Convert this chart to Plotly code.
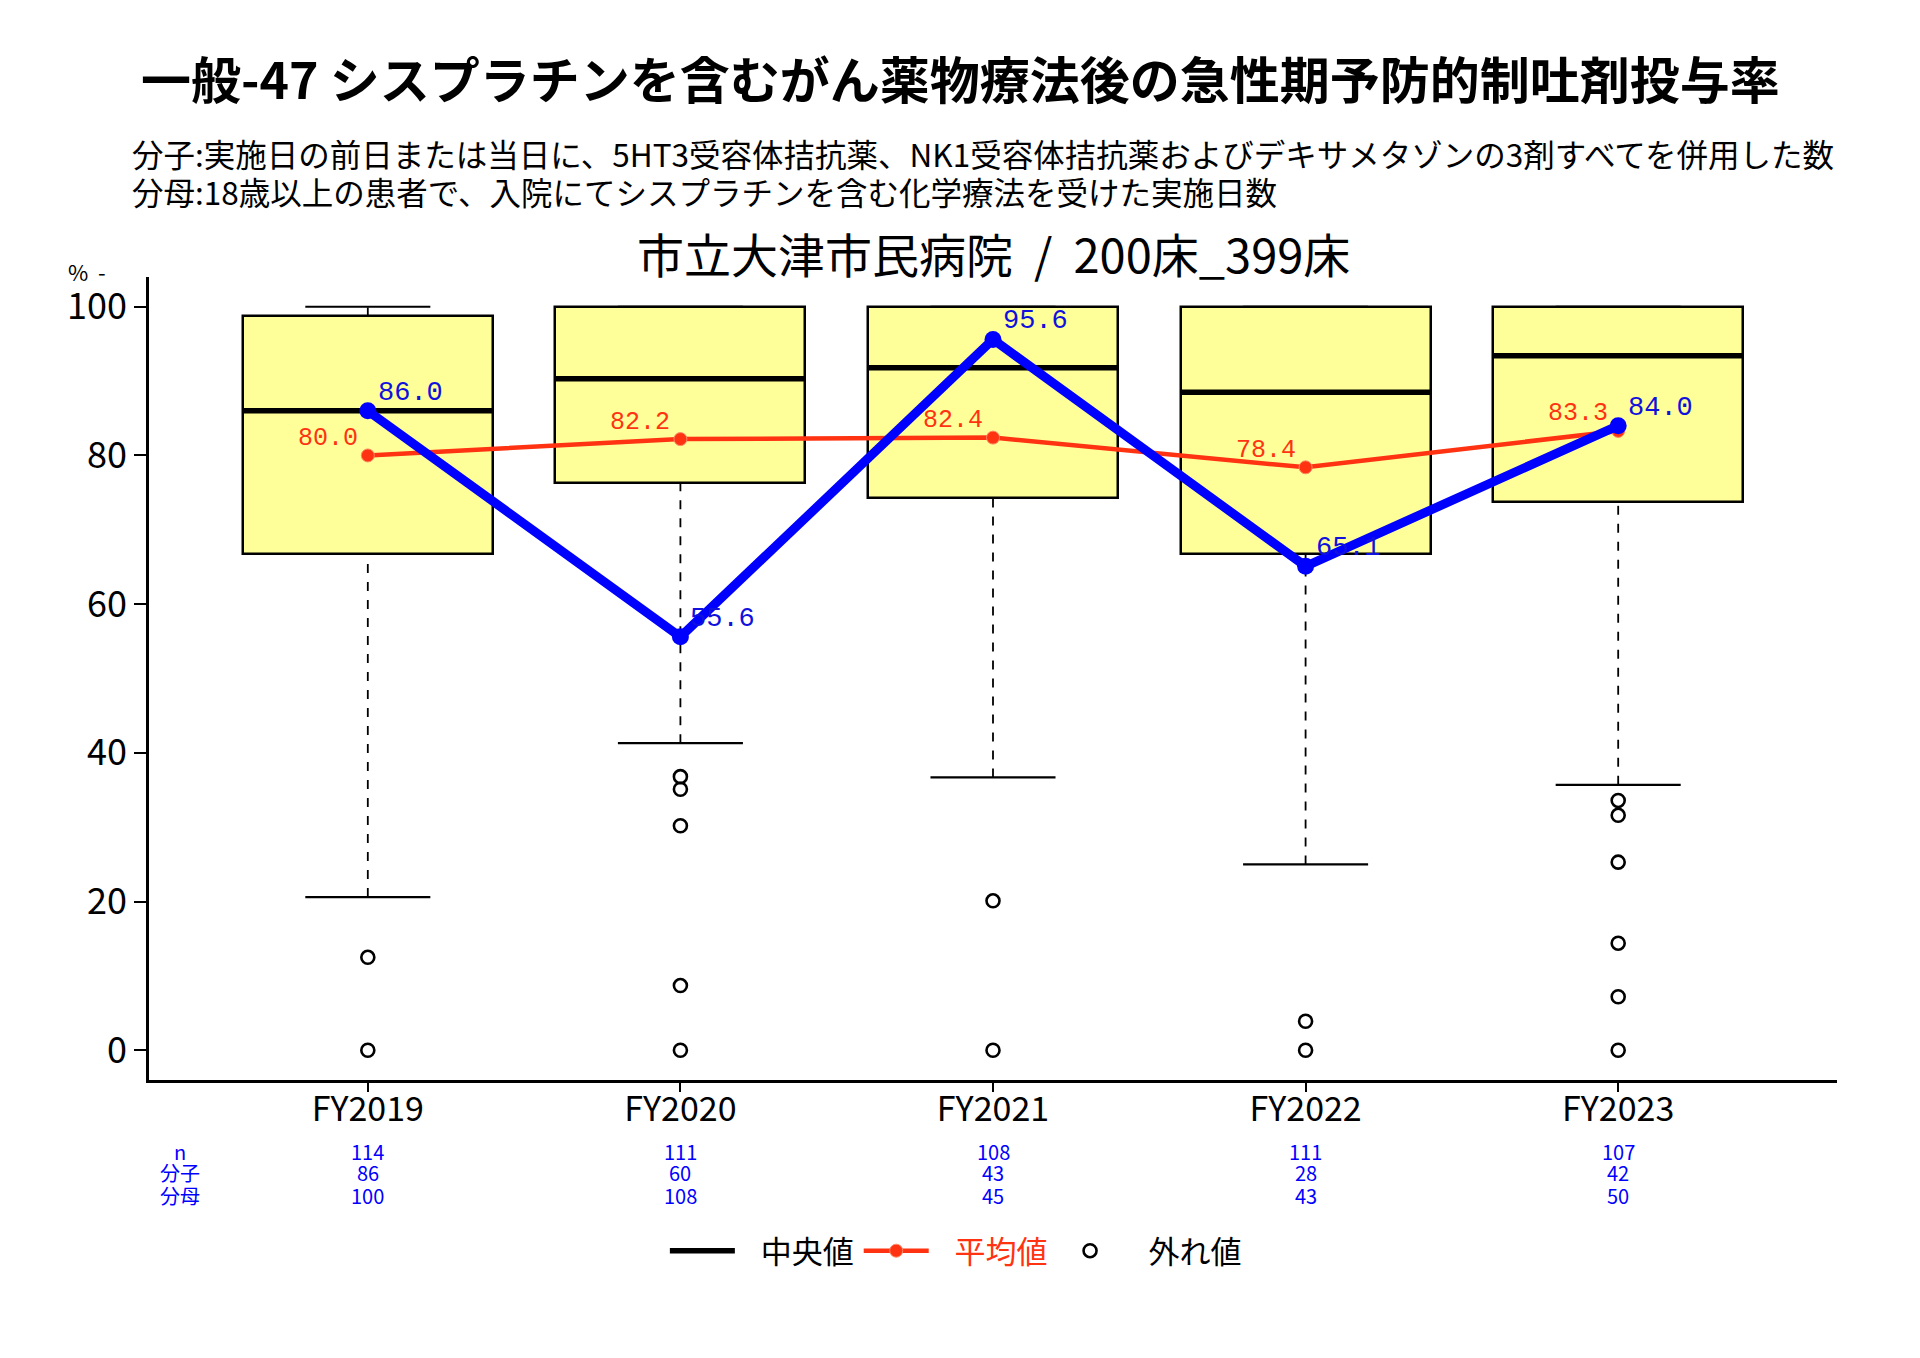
import plotly.graph_objects as go

# ---------------- data ----------------
categories = ["FY2019", "FY2020", "FY2021", "FY2022", "FY2023"]
box_q1 = [66.8, 76.3, 74.3, 66.8, 73.8]
box_median = [86.0, 90.3, 91.8, 88.5, 93.4]
box_q3 = [98.7, 100.0, 100.0, 100.0, 100.0]
whisker_low = [20.6, 41.3, 36.7, 25.0, 35.7]
whisker_high = [100.0, 100.0, 100.0, 100.0, 100.0]
outliers = [
    [12.5, 0.0],
    [36.8, 35.1, 30.2, 8.7, 0.0],
    [20.1, 0.0],
    [3.9, 0.0],
    [33.6, 31.6, 25.3, 14.4, 7.2, 0.0],
]
mean_values = [80.0, 82.2, 82.4, 78.4, 83.3]
hospital_values = [86.0, 55.6, 95.6, 65.1, 84.0]
n_values = [114, 111, 108, 111, 107]
numerators = [86, 60, 43, 28, 42]
denominators = [100, 108, 45, 43, 50]
yticks = [0, 20, 40, 60, 80, 100]

title_text = "一般-47 シスプラチンを含むがん薬物療法後の急性期予防的制吐剤投与率"
sub1 = "分子:実施日の前日または当日に、5HT3受容体拮抗薬、NK1受容体拮抗薬およびデキサメタゾンの3剤すべてを併用した数"
sub2 = "分母:18歳以上の患者で、入院にてシスプラチンを含む化学療法を受けた実施日数"
chart_title = "市立大津市民病院\u00a0\u00a0/\u00a0\u00a0200床_399床"

# ---------------- style ----------------
CJK = "Noto Sans CJK JP"
NARROW = "Liberation Sans Narrow, Arial Narrow, Noto Sans CJK JP"
MONO = "Liberation Mono, DejaVu Sans Mono"
BLUE = "#0000FF"
BLUE_TEXT = "#1111DD"
RED = "#FF3311"
YELLOW = "#FFFF99"
BOX_HALF = 0.4
STAPLE_HALF = 0.2
GAP = "\u00a0\u00a0\u00a0"

xs = list(range(len(categories)))

fig = go.Figure()

# boxes (q1 -> q3)
fig.add_trace(go.Bar(
    x=xs, y=[q3 - q1 for q1, q3 in zip(box_q1, box_q3)], base=box_q1,
    width=2 * BOX_HALF, marker=dict(color=YELLOW, line=dict(color="black", width=2.5)),
    showlegend=False, hoverinfo="skip"))

# whiskers (dashed)
wx, wy = [], []
for i in xs:
    wx += [i, i, None, i, i, None]
    wy += [box_q3[i], whisker_high[i], None, whisker_low[i], box_q1[i], None]
fig.add_trace(go.Scatter(x=wx, y=wy, mode="lines",
                         line=dict(color="black", width=1.8, dash="dash"),
                         showlegend=False, hoverinfo="skip"))

# staples
sx, sy = [], []
for i in xs:
    sx += [i - STAPLE_HALF, i + STAPLE_HALF, None, i - STAPLE_HALF, i + STAPLE_HALF, None]
    sy += [whisker_low[i], whisker_low[i], None, whisker_high[i], whisker_high[i], None]
fig.add_trace(go.Scatter(x=sx, y=sy, mode="lines", line=dict(color="black", width=2.2),
                         showlegend=False, hoverinfo="skip"))

# medians
mx, my = [], []
for i in xs:
    mx += [i - BOX_HALF, i + BOX_HALF, None]
    my += [box_median[i], box_median[i], None]
fig.add_trace(go.Scatter(x=mx, y=my, mode="lines", line=dict(color="black", width=5.5),
                         name=GAP + "中央値", legendrank=1, hoverinfo="skip"))

# outliers
ox, oy = [], []
for i, vals in enumerate(outliers):
    for v in vals:
        ox.append(i)
        oy.append(v)
fig.add_trace(go.Scatter(x=ox, y=oy, mode="markers",
                         marker=dict(symbol="circle-open", size=13, color="black",
                                     line=dict(width=2.6, color="black")),
                         name=GAP + "外れ値", legendrank=3, hoverinfo="skip"))

# mean line
fig.add_trace(go.Scatter(x=xs, y=mean_values, mode="lines+markers",
                         line=dict(color=RED, width=4.5),
                         marker=dict(color=RED, size=13, line=dict(color="#FF8866", width=1)),
                         name=f'<span style="color:{RED}">{GAP}平均値</span>', legendrank=2,
                         hoverinfo="skip"))

# hospital line
fig.add_trace(go.Scatter(x=xs, y=hospital_values, mode="lines+markers",
                         line=dict(color=BLUE, width=9),
                         marker=dict(color=BLUE, size=17),
                         showlegend=False, hoverinfo="skip"))

# ---------------- annotations ----------------
ann = []
ann.append(dict(text=f"<b>{title_text}</b>", x=0.481, y=1.249, xref="paper", yref="paper",
                xanchor="center", yanchor="middle", showarrow=False,
                font=dict(family=CJK, size=50, color="black")))
ann.append(dict(text=sub1, x=-0.011, y=1.155, xref="paper", yref="paper",
                xanchor="left", yanchor="middle", showarrow=False,
                font=dict(family=CJK, size=31.5, color="black")))
ann.append(dict(text=sub2, x=-0.011, y=1.107, xref="paper", yref="paper",
                xanchor="left", yanchor="middle", showarrow=False,
                font=dict(family=CJK, size=31.5, color="black")))
ann.append(dict(text=chart_title, x=0.5, y=1.031, xref="paper", yref="paper",
                xanchor="center", yanchor="middle", showarrow=False,
                font=dict(family=CJK, size=47, color="black")))
ann.append(dict(text="%\u00a0\u00a0-", x=-0.0367, y=1.008, xref="paper", yref="paper",
                xanchor="center", yanchor="middle", showarrow=False,
                font=dict(family=CJK, size=22, color="black")))

# value labels
for i, v in enumerate(mean_values):
    ann.append(dict(text=f"{v:.1f}", x=i, y=v, xref="x", yref="y",
                    xanchor="right", yanchor="middle", xshift=-8, yshift=17,
                    showarrow=False, font=dict(family=MONO, size=25, color=RED)))
for i, v in enumerate(hospital_values):
    ann.append(dict(text=f"{v:.1f}", x=i, y=v, xref="x", yref="y",
                    xanchor="left", yanchor="middle", xshift=8, yshift=18,
                    showarrow=False, font=dict(family=MONO, size=27, color=BLUE_TEXT)))

row_labels = ["n", "分子", "分母"]
row_values = [n_values, numerators, denominators]
row_y = [-0.0885, -0.1155, -0.1435]
for lab, vals, ry in zip(row_labels, row_values, row_y):
    ann.append(dict(text=lab, x=-0.6, y=ry, xref="x", yref="paper",
                    xanchor="center", yanchor="middle", showarrow=False,
                    font=dict(family=NARROW, size=20, color=BLUE)))
    for i, v in enumerate(vals):
        ann.append(dict(text=str(v), x=i, y=ry, xref="x", yref="paper",
                        xanchor="center", yanchor="middle", showarrow=False,
                        font=dict(family=NARROW, size=20, color=BLUE)))

fig.update_layout(
    width=1920, height=1358,
    margin=dict(l=141, r=91, t=269, b=286),
    plot_bgcolor="white", paper_bgcolor="white",
    annotations=ann,
    showlegend=True,
    legend=dict(orientation="h", x=0.478, y=-0.213, xanchor="center", yanchor="middle",
                font=dict(family=CJK, size=31, color="black"),
                itemwidth=65, traceorder="normal", bgcolor="rgba(0,0,0,0)"),
    xaxis=dict(range=[-0.7, 4.7], tickvals=xs, ticktext=categories,
               showline=True, linecolor="black", linewidth=2.8,
               ticks="outside", ticklen=9, tickwidth=1.5, tickcolor="black",
               ticklabelstandoff=-12,
               showgrid=False, zeroline=False,
               tickfont=dict(family=NARROW, size=34, color="black")),
    yaxis=dict(range=[-4, 104], tickvals=yticks,
               showline=True, linecolor="black", linewidth=2.8,
               ticks="outside", ticklen=12, tickwidth=1.5, tickcolor="black",
               showgrid=False, zeroline=False,
               tickfont=dict(family=NARROW, size=36, color="black")),
    bargap=0,
)

fig.write_html("out.html")
